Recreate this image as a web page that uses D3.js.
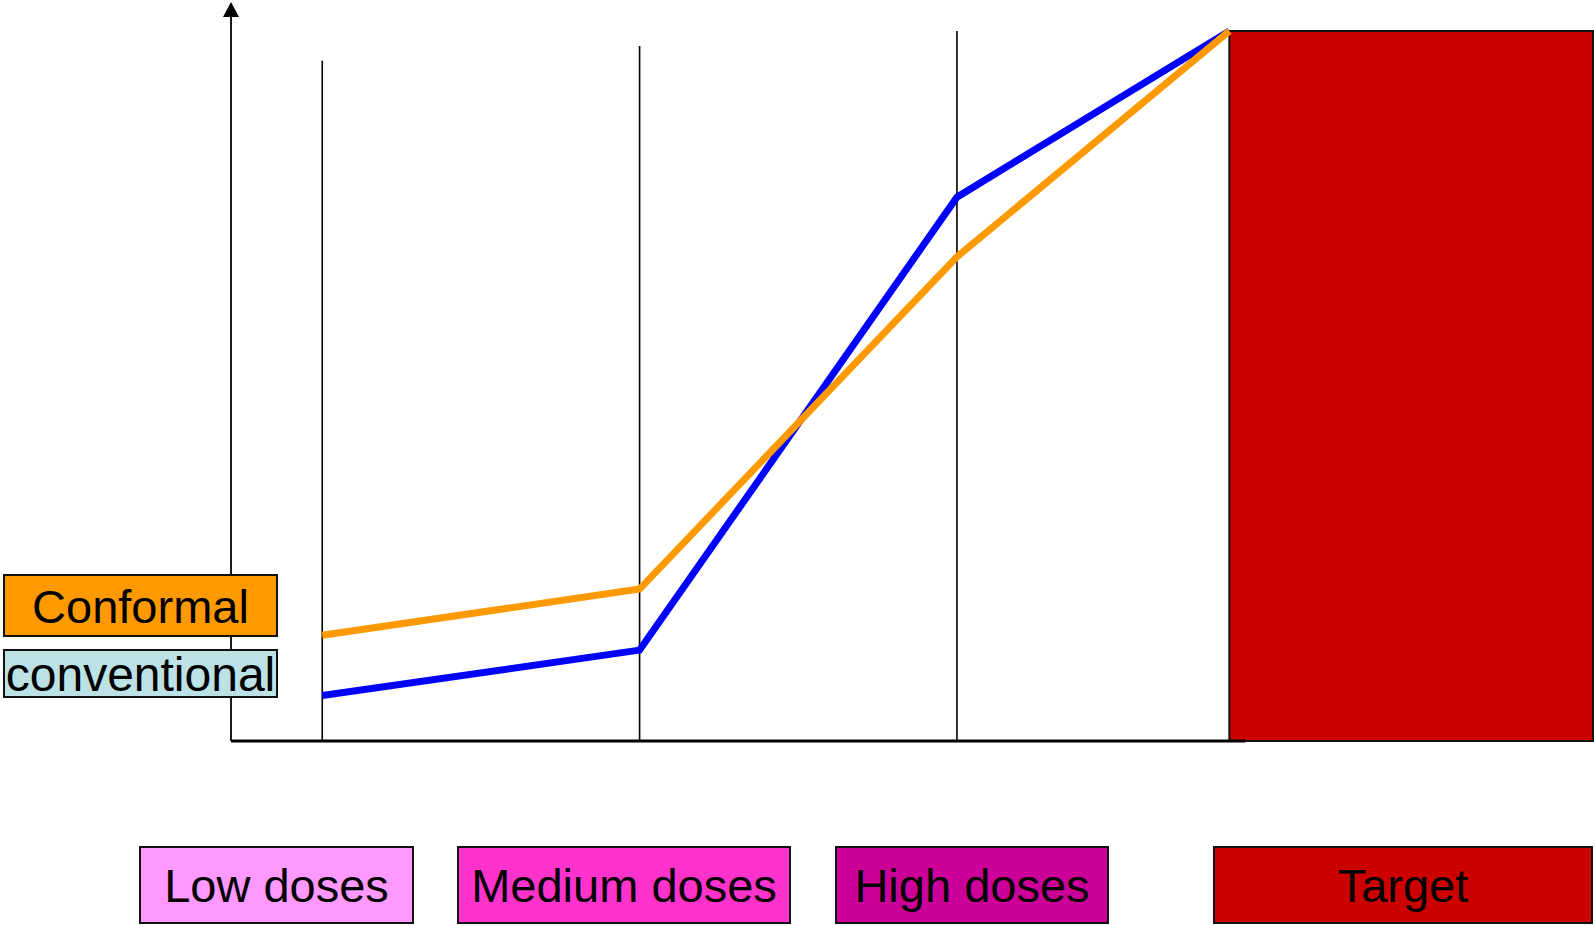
<!DOCTYPE html>
<html>
<head>
<meta charset="utf-8">
<script src="https://cdn.jsdelivr.net/npm/d3@7"></script>
<style>
  html, body { margin: 0; padding: 0; background: #fff; }
  svg { display: block; }
  text { font-family: "Liberation Sans", Arial, sans-serif; fill: #000; }
</style>
</head>
<body>
<svg id="chart" width="1595" height="926"></svg>
<script>
// Relative position along the dose gradient (0 = axis, 100 = far edge of target)
const positions = [6.7, 30.0, 53.3, 73.3];
// Relative dose at each position
const conventional = [6.4, 12.8, 76.6, 100];
const conformal = [14.9, 21.4, 68.2, 100];
// Height reached by each zone divider
const dividerTops = [95.8, 97.9, 100];
// Target volume extent
const targetStart = 73.3, targetEnd = 100, targetTop = 100;

const seriesNames = ["Conformal", "conventional"];
const seriesColors = ["#FF9900", "#0000FF"];
const legendFills = ["#FF9900", "#BDE2E5"];

const zoneLabels = ["Low doses", "Medium doses", "High doses", "Target"];
const zoneColors = ["#FF99FF", "#FF33CC", "#CC0099", "#CC0000"];

const svg = d3.select("#chart");

const x = d3.scaleLinear().domain([0, 100]).range([231, 1593]);
const y = d3.scaleLinear().domain([0, 100]).range([741, 31]);

// Target block
svg.append("rect")
  .attr("x", x(targetStart))
  .attr("y", y(targetTop))
  .attr("width", x(targetEnd) - x(targetStart))
  .attr("height", y(0) - y(targetTop))
  .attr("fill", "#CC0000")
  .attr("stroke", "#111")
  .attr("stroke-width", 2);

// Zone dividers
svg.selectAll("line.divider")
  .data(dividerTops)
  .join("line")
  .attr("class", "divider")
  .attr("x1", (d, i) => x(positions[i]))
  .attr("x2", (d, i) => x(positions[i]))
  .attr("y1", y(0))
  .attr("y2", d => y(d))
  .attr("stroke", "#000")
  .attr("stroke-width", 1.6);

// Y axis with arrow head
svg.append("line")
  .attr("x1", x(0)).attr("x2", x(0))
  .attr("y1", y(0)).attr("y2", 16)
  .attr("stroke", "#000").attr("stroke-width", 1.8);
svg.append("path")
  .attr("d", `M${x(0)},2 L${x(0) - 8},17 L${x(0) + 8},17 Z`)
  .attr("fill", "#000");

// Baseline
svg.append("line")
  .attr("x1", x(0)).attr("x2", x(targetStart) + 16)
  .attr("y1", y(0)).attr("y2", y(0))
  .attr("stroke", "#000").attr("stroke-width", 3);

// Dose curves
const line = d3.line()
  .x((d, i) => x(positions[i]))
  .y(d => y(d));

[conventional, conformal].forEach((vals, k) => {
  svg.append("path")
    .datum(vals)
    .attr("d", line)
    .attr("fill", "none")
    .attr("stroke", k === 0 ? seriesColors[1] : seriesColors[0])
    .attr("stroke-width", 7)
    .attr("stroke-linejoin", "miter");
});

// Legend boxes on the left
const legendBoxes = [
  { x: 4, y: 575, w: 273, h: 61 },
  { x: 4, y: 650, w: 273, h: 47 }
];
const legend = svg.selectAll("g.legend")
  .data(seriesNames)
  .join("g")
  .attr("class", "legend");
legend.append("rect")
  .attr("x", (d, i) => legendBoxes[i].x)
  .attr("y", (d, i) => legendBoxes[i].y)
  .attr("width", (d, i) => legendBoxes[i].w)
  .attr("height", (d, i) => legendBoxes[i].h)
  .attr("fill", (d, i) => legendFills[i])
  .attr("stroke", "#111")
  .attr("stroke-width", 2);
legend.append("text")
  .attr("x", (d, i) => legendBoxes[i].x + legendBoxes[i].w / 2)
  .attr("y", (d, i) => legendBoxes[i].y + legendBoxes[i].h / 2 + 17)
  .attr("text-anchor", "middle")
  .attr("font-size", (d, i) => i === 0 ? 47 : 48)
  .text(d => d);

// Zone labels along the bottom
const zoneBoxes = [
  { x: 140, w: 273 },
  { x: 458, w: 332 },
  { x: 836, w: 272 },
  { x: 1214, w: 378 }
];
const zones = svg.selectAll("g.zone")
  .data(zoneLabels)
  .join("g")
  .attr("class", "zone");
zones.append("rect")
  .attr("x", (d, i) => zoneBoxes[i].x)
  .attr("y", 847)
  .attr("width", (d, i) => zoneBoxes[i].w)
  .attr("height", 76)
  .attr("fill", (d, i) => zoneColors[i])
  .attr("stroke", "#111")
  .attr("stroke-width", 2);
zones.append("text")
  .attr("x", (d, i) => zoneBoxes[i].x + zoneBoxes[i].w / 2)
  .attr("y", 902)
  .attr("text-anchor", "middle")
  .attr("font-size", 47)
  .text(d => d);
</script>
</body>
</html>
